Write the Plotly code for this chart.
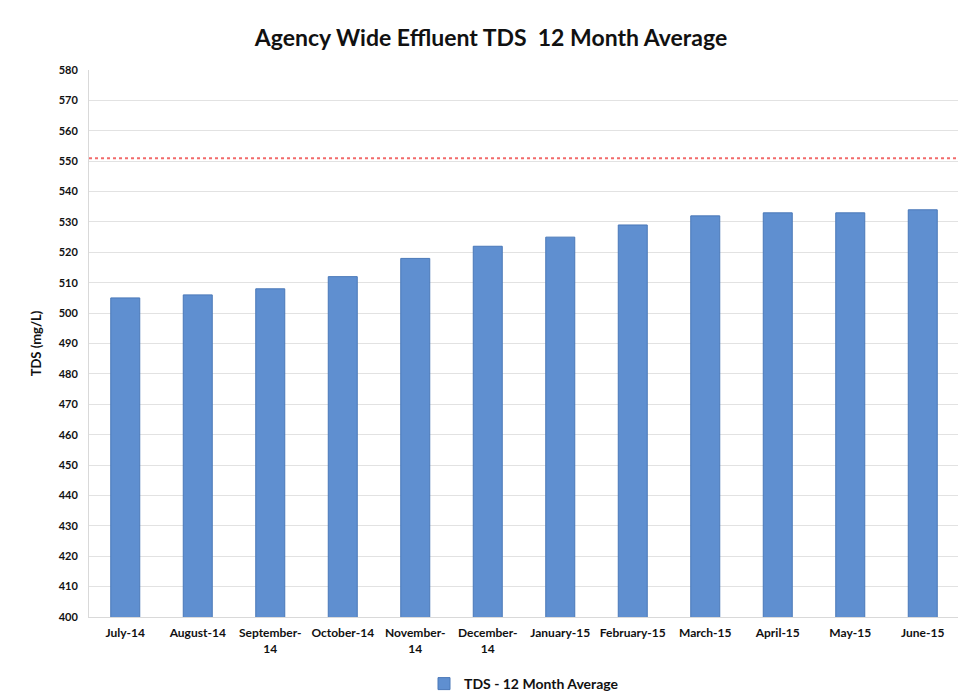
import plotly.graph_objects as go

months = ["July-14", "August-14", "September-<br>14", "October-14", "November-<br>14",
          "December-<br>14", "January-15", "February-15", "March-15", "April-15",
          "May-15", "June-15"]
tds_avg = [505, 506, 508, 512, 518, 522, 525, 529, 532, 533, 533, 534]
limit_value = 551
y_ticks = list(range(400, 581, 10))

fig = go.Figure()
fig.add_trace(go.Bar(
    x=months, y=tds_avg, name="<b>TDS - 12 Month Average</b>",
    marker=dict(color="#5F8FD0", line=dict(color="#4A78B8", width=1)),
    width=0.4,
))
fig.add_shape(type="line", xref="paper", yref="y", x0=0, x1=1,
              y0=limit_value, y1=limit_value,
              line=dict(color="#F26B6B", width=2, dash="dot"))

fig.update_layout(
    width=966, height=700,
    paper_bgcolor="white", plot_bgcolor="white",
    margin=dict(l=81, r=15, t=62, b=91, autoexpand=False),
    font=dict(family="Lato, Open Sans, sans-serif", color="#111111"),
    title=dict(text="<b>Agency Wide Effluent TDS  12 Month Average</b>",
               x=0.5, xanchor="center", yref="container", y=1 - 30 / 700, yanchor="middle",
               font=dict(size=23, family="Lato, sans-serif", color="#111111")),
    showlegend=True,
    legend=dict(orientation="h", x=0.5, xanchor="center", yref="container",
                y=1 - 676 / 700, yanchor="middle",
                font=dict(size=14, family="Lato, sans-serif")),
    bargap=0.6,
)
fig.update_yaxes(range=[400, 580], tickvals=y_ticks,
                 ticktext=[f"<b>{v}</b>" for v in y_ticks],
                 tickfont=dict(size=11), gridcolor="#E2E2E2", gridwidth=1,
                 ticklabelstandoff=8,
                 showline=True, linecolor="#D9D9D9", zeroline=False, automargin=False,
                 title=dict(text="<b>TDS (mg/L)</b>", font=dict(size=13), standoff=14))
fig.update_xaxes(tickfont=dict(size=12), showline=True, linecolor="#D9D9D9",
                 tickvals=months, ticktext=[f"<b>{m}</b>" for m in months],
                 ticklabelstandoff=5,
                 showgrid=False, automargin=False)

fig.write_html("out.html")
